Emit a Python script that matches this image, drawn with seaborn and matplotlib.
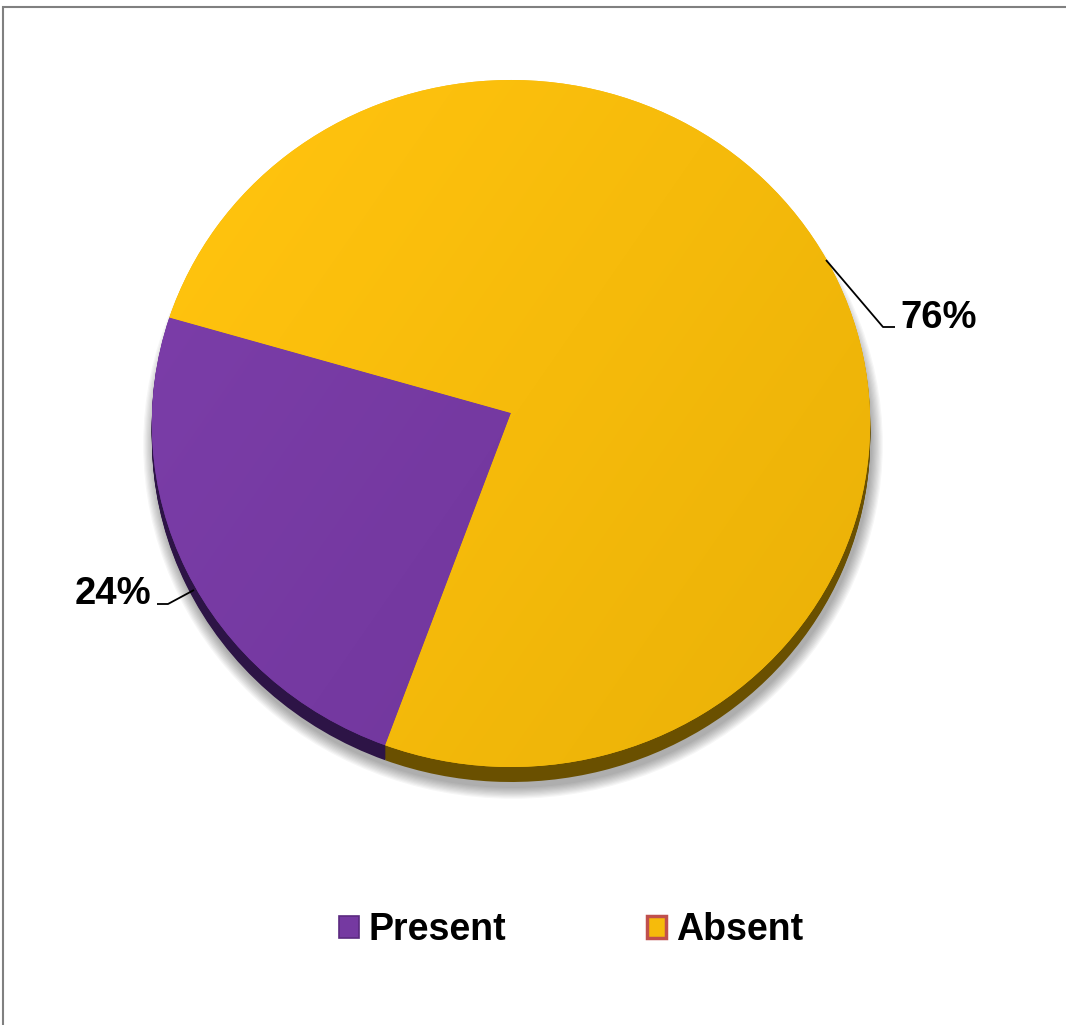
import numpy as np
import matplotlib
matplotlib.use("Agg")
import matplotlib.pyplot as plt
import matplotlib.transforms as mtransforms
from matplotlib.patches import Patch, Rectangle, Ellipse
import seaborn as sns

# data
labels = ["Present", "Absent"]
values = [24, 76]
top_colors = ["#7539A1", "#F6BB0B"]
side_colors = ["#2D1446", "#6A5000"]
edge_colors = ["#5B2A80", "#C0504D"]

sns.set_theme(style="white")
plt.rcParams["font.family"] = ["Liberation Sans", "DejaVu Sans"]
plt.rcParams["text.color"] = "black"

W, H = 1066, 1025
fig = plt.figure(figsize=(W / 100, H / 100), dpi=100)
fig.patch.set_facecolor("white")

ax = fig.add_axes([0, 0, 1, 1])
ax.set_axis_off()

# tilted-disc projection: unit pie -> pixel coordinates (y down)
CX, K = 511.0, 359.0
P_TOP, P_MID, P_BOT = 80.0, 413.0, 767.0
# p(v) = (a v + b) / (c v + 1) with p(1)=top, p(0)=centre, p(-1)=bottom
B = P_MID
C = (P_BOT + P_TOP - 2 * B) / (P_BOT - P_TOP)
A = P_TOP * (C + 1) - B


class TiltedDisc(mtransforms.Transform):
    input_dims = 2
    output_dims = 2
    is_separable = False
    has_inverse = False

    def __init__(self, drop=0.0):
        super().__init__()
        self.drop = drop

    def transform_non_affine(self, values):
        values = np.asarray(values, dtype=float)
        u, v = values[:, 0], values[:, 1]
        d = 1 + C * v
        return np.column_stack([CX + K * u / d, (A * v + B) / d + self.drop])


start = 163.7
depth = 15

# soft drop shadow
for i in range(10):
    g = i * 1.2
    ax.add_patch(Ellipse((CX + 2, (P_TOP + P_BOT) / 2 + depth + 6), 2 * K + 2 * g,
                         (P_BOT - P_TOP) + 2 * g, facecolor="black",
                         alpha=0.035, edgecolor="none", zorder=0))

# extruded side of the disc
for k in range(depth, 0, -1):
    side, _ = ax.pie(values, colors=side_colors, startangle=start, counterclock=True,
                     radius=1, center=(0, 0), wedgeprops=dict(linewidth=0, zorder=1))
    for s in side:
        s.set_transform(TiltedDisc(drop=k) + ax.transData)

# top face
wedges, _ = ax.pie(values, colors=top_colors, startangle=start, counterclock=True,
                   radius=1, center=(0, 0), wedgeprops=dict(linewidth=0, zorder=3))
for w in wedges:
    w.set_transform(TiltedDisc() + ax.transData)

# gentle lighting across each face (lighter toward the upper left)
x0, x1, y0, y1 = 140, 880, 70, 790
X, Y = np.meshgrid(np.linspace(x0, x1, 400), np.linspace(y0, y1, 400))
shade = ((X - CX) / K) * 0.6 + ((Y - 420) / 345) * 0.4
for w, c in zip(wedges, top_colors):
    rgb = np.array(matplotlib.colors.to_rgb(c))
    img = np.clip(rgb[None, None, :] * (1 - 0.035 * shade[..., None]) + 0.015 * (-shade[..., None]), 0, 1)
    im = ax.imshow(img, extent=(x0, x1, y1, y0), origin="upper", zorder=4,
                   interpolation="bilinear", aspect="auto")
    im.set_clip_path(w)

ax.set_aspect("auto")
ax.set_xlim(0, W)
ax.set_ylim(H, 0)

# percentage labels with elbow leaders (pixel layout)
label_fs = 27.5
leaders = {
    "Absent": dict(pts=[(826, 260), (883, 327), (895, 327)], text=(900, 328), ha="left"),
    "Present": dict(pts=[(194, 590), (168, 604), (157, 604)], text=(151, 604), ha="right"),
}
for lab, v in zip(labels, values):
    L = leaders[lab]
    xs, ys = zip(*L["pts"])
    ax.plot(xs, ys, color="black", lw=1.3, zorder=6, solid_capstyle="butt")
    ax.text(*L["text"], f"{v}%", ha=L["ha"], va="baseline",
            fontsize=label_fs, fontweight="bold", color="black", zorder=6)

# legend
handles = [Patch(facecolor=c, edgecolor=e, linewidth=lw, label=l)
           for c, e, l, lw in zip(top_colors, edge_colors, labels, [1.2, 2.5])]
fig.legend(handles=handles, loc="center", bbox_to_anchor=(571 / W, 1 - 930 / H),
           ncol=2, frameon=False, handlelength=0.53, handleheight=0.53,
           handletextpad=0.25, columnspacing=3.75, labelcolor="black",
           prop=dict(family="Liberation Sans", weight="bold", size=27))

# chart area border
fig.add_artist(Rectangle((3 / W, -0.1), 1.2, 1 - 7 / H + 0.1, transform=fig.transFigure,
                         fill=False, edgecolor="#808080", linewidth=1.5))

fig.savefig("out.png", dpi=100, facecolor="white")
